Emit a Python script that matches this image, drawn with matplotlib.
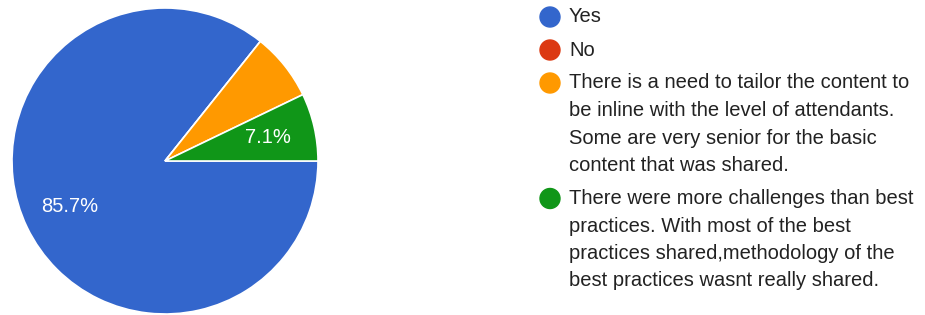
import matplotlib
matplotlib.use('Agg')
from matplotlib import pyplot as plt
from matplotlib.patches import Circle

labels = ['Yes', 'No',
          'There is a need to tailor the content to be inline with the level of attendants. '
          'Some are very senior for the basic content that was shared.',
          'There were more challenges than best practices. With most of the best '
          'practices shared,methodology of the best practices wasnt really shared.']
counts = [12, 0, 1, 1]
show_pct = [True, False, False, True]
colors = ['#3366cc', '#dc3912', '#ff9900', '#109618']

plt.rcParams['font.family'] = ['Liberation Sans', 'DejaVu Sans']

W, H = 925, 315
fig = plt.figure(figsize=(W / 100, H / 100), dpi=100)

# pie placed in pixel terms: center (165,161), radius 153
cx, cy, r = 165, 161, 153
ax = fig.add_axes([(cx - r) / W, (H - cy - r) / H, 2 * r / W, 2 * r / H])
wedges, texts, autotexts = ax.pie(counts, colors=colors, startangle=0, counterclock=False,
                                  autopct='%1.1f%%', pctdistance=0.69,
                                  wedgeprops=dict(edgecolor='white', linewidth=1.2),
                                  textprops=dict(color='white', fontsize=14.5))
for t, show in zip(autotexts, show_pct):
    t.set_visible(show)
ax.set_xlim(-1, 1)
ax.set_ylim(-1, 1)
ax.set_aspect('equal')
for w in wedges:
    w.set_clip_on(False)

# legend drawn by hand, wrapped lines like the form summary
wrapped = ['Yes', 'No',
           'There is a need to tailor the content to\nbe inline with the level of attendants.\n'
           'Some are very senior for the basic\ncontent that was shared.',
           'There were more challenges than best\npractices. With most of the best\n'
           'practices shared,methodology of the\nbest practices wasnt really shared.']
lax = fig.add_axes([0, 0, 1, 1])
lax.set_xlim(0, W)
lax.set_ylim(H, 0)
lax.axis('off')

y = 17
line_step = 27.5
item_gap = 33
for text, c in zip(wrapped, colors):
    lax.add_patch(Circle((550, y), 10, color=c))
    lines = text.split('\n')
    for i, line in enumerate(lines):
        lax.text(569, y + i * line_step, line, fontsize=14.5, color='#222222',
                 va='center', ha='left')
    y += (len(lines) - 1) * line_step + item_gap

fig.savefig('out.png', dpi=100)
